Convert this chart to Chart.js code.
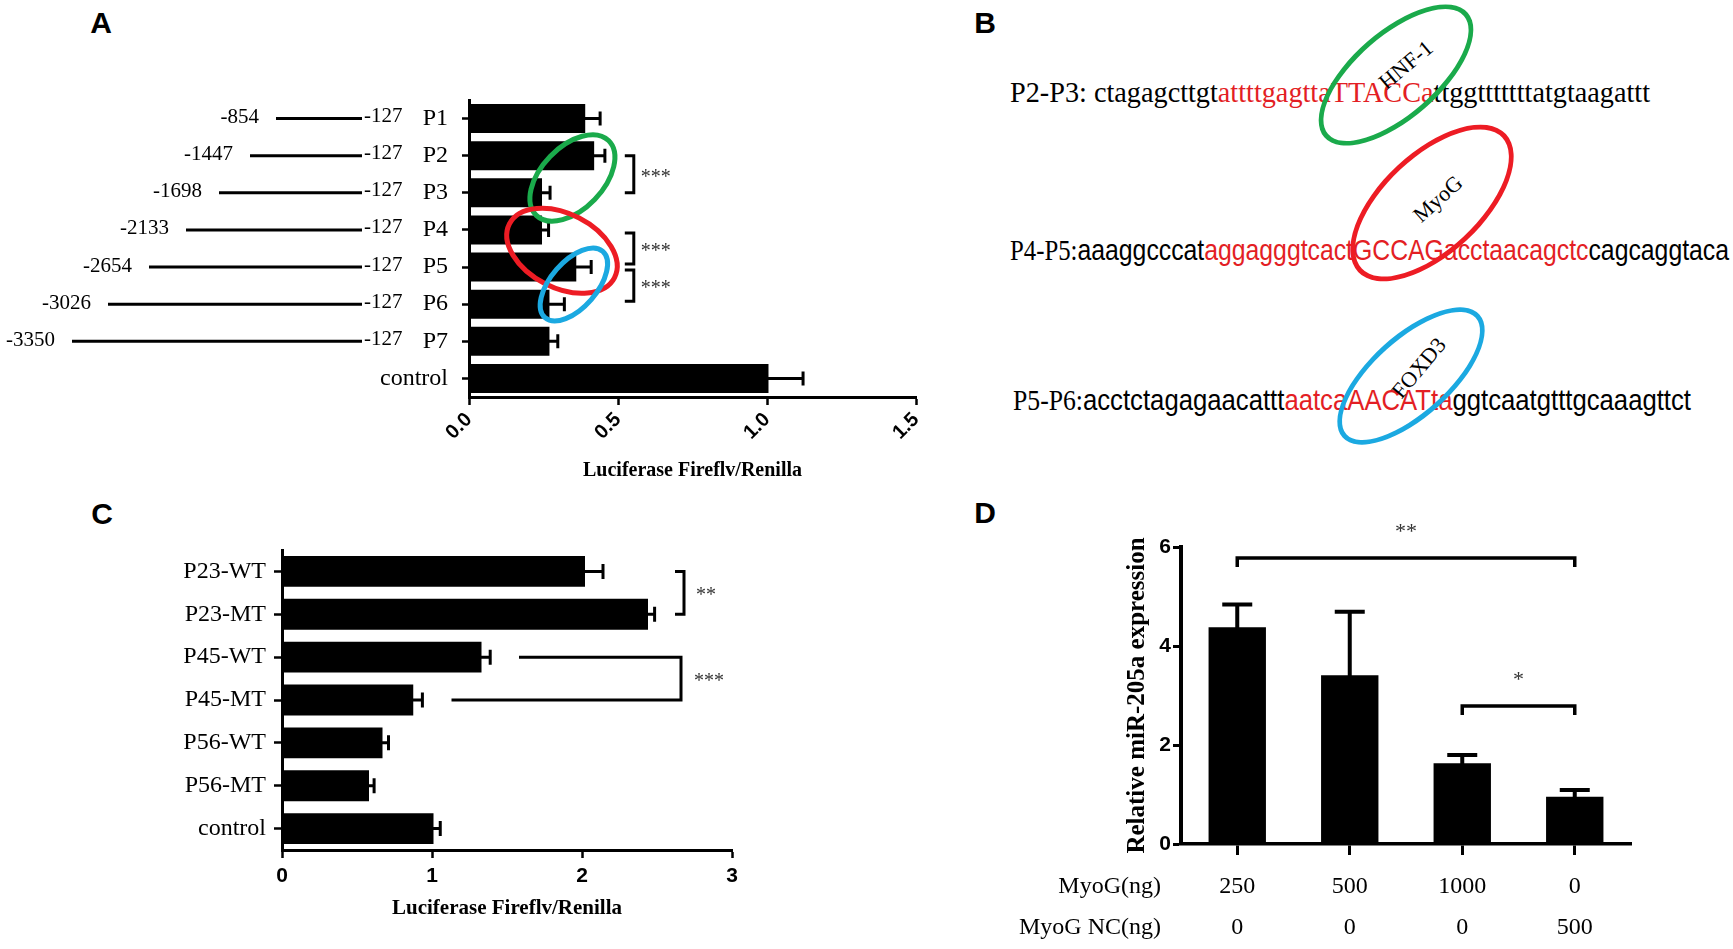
<!DOCTYPE html>
<html>
<head>
<meta charset="utf-8">
<title>MyoG / miR-205a promoter</title>
<script src="https://cdn.jsdelivr.net/npm/chart.js@4.4.0/dist/chart.umd.min.js"></script>
<style>
body { margin: 0; background: #fff; }
#page { position: relative; width: 1733px; height: 949px; overflow: hidden; font-family: 'Liberation Serif', 'Times New Roman', serif; color: #000; }
.letter { position: absolute; font: bold 30px 'Liberation Sans', Arial, sans-serif; line-height: 30px; transform: translate(-50%, -50%); }
.wrap { position: absolute; }
.seq { position: absolute; white-space: nowrap; font-size: 30px; line-height: 30px; display: inline-block; transform-origin: 0 50%; }
.sans { font-family: 'Liberation Sans', Arial, sans-serif; }
.red { color: #e31e24; }
.ring { position: absolute; border-radius: 50%; box-sizing: border-box; border-style: solid; border-width: 5px; }
.tf { position: absolute; font-size: 22px; line-height: 22px; white-space: nowrap; }
</style>
</head>
<body>
<div id="page">
  <div class="letter" style="left:101px;top:23px">A</div>
  <div class="letter" style="left:985px;top:23px">B</div>
  <div class="letter" style="left:102px;top:514px">C</div>
  <div class="letter" style="left:985px;top:513px">D</div>

  <div class="wrap" style="left:0;top:0;width:960px;height:490px"><canvas id="chartA" width="960" height="490"></canvas></div>
  <div class="wrap" style="left:0;top:480px;width:800px;height:469px"><canvas id="chartC" width="800" height="469"></canvas></div>
  <div class="wrap" style="left:1000px;top:480px;width:733px;height:469px"><canvas id="chartD" width="733" height="469"></canvas></div>

  <!-- panel B : sequences -->
  <div class="seq" id="seq1" data-w="640" style="left:1010px;top:77px">P2-P3: ctagagcttgt<span class="red">attttgagttaTTACCa</span>ttggtttttttatgtaagattt</div>
  <div class="seq" id="seq2" data-w="719" style="left:1010px;top:235px">P4-P5:<span class="sans">aaaggcccat<span class="red">aggagggtcactGCCAGacctaacagctc</span>cagcaggtaca</span></div>
  <div class="seq" id="seq3" data-w="678" style="left:1013px;top:385px">P5-P6:<span class="sans">acctctagagaacattt<span class="red">aatcaAACATta</span>ggtcaatgtttgcaaagttct</span></div>

  <div class="ring" style="border-color:#1aaa4b;left:1301px;top:31px;width:190px;height:88px;transform:rotate(-41deg)"></div>
  <div class="ring" style="border-color:#ed1c24;left:1331px;top:152px;width:202px;height:102px;transform:rotate(-43deg)"></div>
  <div class="ring" style="border-color:#1ba9e1;left:1319px;top:335px;width:184px;height:82px;transform:rotate(-42deg)"></div>

  <div class="tf" style="left:1406px;top:65px;transform:translate(-50%,-50%) rotate(-40deg)">HNF-1</div>
  <div class="tf" style="left:1438px;top:199px;transform:translate(-50%,-50%) rotate(-42deg)">MyoG</div>
  <div class="tf" style="left:1419px;top:368px;transform:translate(-50%,-50%) rotate(-50deg)">FOXD3</div>
</div>

<script>
// ---- data ----
const promoterLabels = ['P1', 'P2', 'P3', 'P4', 'P5', 'P6', 'P7', 'control'];
const promoterMean = [0.39, 0.42, 0.245, 0.245, 0.36, 0.27, 0.27, 1.005];
const promoterErr = [0.05, 0.036, 0.027, 0.022, 0.05, 0.05, 0.028, 0.116];
const promoterStart = ['-854', '-1447', '-1698', '-2133', '-2654', '-3026', '-3350'];
const promoterEnd = ['-127', '-127', '-127', '-127', '-127', '-127', '-127'];

const mutLabels = ['P23-WT', 'P23-MT', 'P45-WT', 'P45-MT', 'P56-WT', 'P56-MT', 'control'];
const mutMean = [2.02, 2.44, 1.33, 0.875, 0.67, 0.58, 1.01];
const mutErr = [0.12, 0.044, 0.058, 0.061, 0.04, 0.034, 0.045];

const myogDose = ['250', '500', '1000', '0'];
const myogNcDose = ['0', '0', '0', '500'];
const mirMean = [4.38, 3.41, 1.63, 0.955];
const mirErr = [0.46, 1.28, 0.168, 0.135];

Chart.defaults.font.family = "'Liberation Serif', 'Times New Roman', serif";
Chart.defaults.color = '#000';
Chart.defaults.animation = false;

const SERIF = "'Liberation Serif', 'Times New Roman', serif";
const SANS = "'Liberation Sans', Arial, sans-serif";

// one-sided error bars (GraphPad style)
const errorBars = {
    id: 'errorBars',
    afterDatasetsDraw(chart, args, opts) {
        const ctx = chart.ctx;
        const meta = chart.getDatasetMeta(0);
        const data = chart.data.datasets[0].data;
        const horiz = chart.options.indexAxis === 'y';
        const vScale = horiz ? chart.scales.x : chart.scales.y;
        ctx.save();
        ctx.strokeStyle = '#000';
        ctx.lineWidth = opts.width;
        meta.data.forEach((bar, i) => {
            const p = vScale.getPixelForValue(data[i] + opts.errors[i]);
            ctx.beginPath();
            if (horiz) {
                ctx.moveTo(bar.x - 2, bar.y); ctx.lineTo(p, bar.y);
                ctx.moveTo(p, bar.y - opts.cap); ctx.lineTo(p, bar.y + opts.cap);
            } else {
                ctx.moveTo(bar.x, bar.y + 2); ctx.lineTo(bar.x, p);
                ctx.moveTo(bar.x - opts.cap, p); ctx.lineTo(bar.x + opts.cap, p);
            }
            ctx.stroke();
        });
        ctx.restore();
    }
};

function vBracket(ctx, x, y1, y2, tick) {
    ctx.beginPath();
    ctx.moveTo(x - tick, y1); ctx.lineTo(x, y1); ctx.lineTo(x, y2); ctx.lineTo(x - tick, y2);
    ctx.stroke();
}

function ring(ctx, x, y, a, b, deg, color) {
    ctx.save();
    ctx.strokeStyle = color;
    ctx.lineWidth = 5;
    ctx.beginPath();
    ctx.ellipse(x, y, a, b, deg * Math.PI / 180, 0, Math.PI * 2);
    ctx.stroke();
    ctx.restore();
}

// ---- panel A ----
const annotA = {
    id: 'annotA',
    afterDraw(chart) {
        const ctx = chart.ctx, xs = chart.scales.x, ys = chart.scales.y;
        // construct schematic on the left
        const lineFrom = [276, 250, 219, 186, 149, 108, 72];
        ctx.save();
        ctx.strokeStyle = '#000';
        ctx.fillStyle = '#000';
        ctx.lineWidth = 3;
        ctx.font = '21px ' + SERIF;
        ctx.textBaseline = 'middle';
        promoterStart.forEach((s, i) => {
            const y = ys.getPixelForValue(i);
            ctx.beginPath(); ctx.moveTo(lineFrom[i], y); ctx.lineTo(362, y); ctx.stroke();
            ctx.textAlign = 'right'; ctx.fillText(s, lineFrom[i] - 17, y - 1);
            ctx.textAlign = 'left'; ctx.fillText(promoterEnd[i], 364, y - 2);
        });
        // significance brackets
        const bx = xs.getPixelForValue(0.553);
        ctx.lineWidth = 3;
        [[1, 2, 0], [3, 4, 3], [4, 5, 3]].forEach(([a, b, inset]) => {
            const y1 = ys.getPixelForValue(a) + inset, y2 = ys.getPixelForValue(b) - inset;
            vBracket(ctx, bx, y1, y2, 9);
            ctx.fillStyle = '#333';
            ctx.font = '20px ' + SERIF;
            ctx.textAlign = 'left';
            ctx.fillText('***', bx + 7, (y1 + y2) / 2 + 3);
        });
        ctx.restore();
        ring(ctx, xs.getPixelForValue(0.347), ys.getPixelForValue(1.60), 52, 31, -46, '#1aaa4b');
        ring(ctx, xs.getPixelForValue(0.312), ys.getPixelForValue(3.56), 59, 37, 27, '#ed1c24');
        ring(ctx, xs.getPixelForValue(0.352), ys.getPixelForValue(4.47), 44, 23, -49, '#1ba9e1');
    }
};

new Chart(document.getElementById('chartA'), {
    type: 'bar',
    data: {
        labels: promoterLabels,
        datasets: [{ data: promoterMean, backgroundColor: '#000', barPercentage: 0.78, categoryPercentage: 1 }]
    },
    options: {
        indexAxis: 'y',
        responsive: false,
        layout: { padding: { left: 0, right: 44, top: 100, bottom: 0 } },
        plugins: {
            legend: { display: false },
            tooltip: { enabled: false },
            errorBars: { errors: promoterErr, cap: 7, width: 3 }
        },
        scales: {
            x: {
                min: 0, max: 1.5,
                afterFit(s) { s.height = 93; },
                border: { display: true, color: '#000', width: 3 },
                grid: { drawOnChartArea: false, drawTicks: true, tickLength: 8, tickColor: '#000', tickWidth: 2.5 },
                ticks: {
                    stepSize: 0.5, minRotation: 45, maxRotation: 45, padding: 3,
                    font: { family: SANS, weight: 'bold', size: 20 },
                    callback: v => v.toFixed(1)
                },
                title: {
                    display: true, text: 'Luciferase Fireflv/Renilla',
                    font: { family: SERIF, weight: 'bold', size: 20 },
                    padding: { top: 0, bottom: 7 }
                }
            },
            y: {
                afterFit(s) { s.width = 469; },
                border: { display: true, color: '#000', width: 3 },
                grid: { offset: false, drawOnChartArea: false, drawTicks: true, tickLength: 7, tickColor: '#000', tickWidth: 2.5 },
                ticks: { padding: 14, font: { family: SERIF, size: 24 } }
            }
        }
    },
    plugins: [errorBars, annotA]
});

// ---- panel C ----
const annotC = {
    id: 'annotC',
    afterDraw(chart) {
        const ctx = chart.ctx, xs = chart.scales.x, ys = chart.scales.y;
        ctx.save();
        ctx.strokeStyle = '#000';
        ctx.lineWidth = 3;
        const bx = xs.getPixelForValue(2.68);
        const y0 = ys.getPixelForValue(0), y1 = ys.getPixelForValue(1);
        vBracket(ctx, bx, y0, y1, 9);
        const cx = xs.getPixelForValue(2.66);
        const y2 = ys.getPixelForValue(2), y3 = ys.getPixelForValue(3);
        ctx.beginPath();
        ctx.moveTo(xs.getPixelForValue(1.58), y2); ctx.lineTo(cx, y2); ctx.lineTo(cx, y3);
        ctx.lineTo(xs.getPixelForValue(1.13), y3);
        ctx.stroke();
        ctx.fillStyle = '#333';
        ctx.font = '20px ' + SERIF;
        ctx.textBaseline = 'middle';
        ctx.textAlign = 'left';
        ctx.fillText('**', bx + 12, (y0 + y1) / 2 + 3);
        ctx.fillText('***', cx + 13, (y2 + y3) / 2 + 3);
        ctx.restore();
    }
};

new Chart(document.getElementById('chartC'), {
    type: 'bar',
    data: {
        labels: mutLabels,
        datasets: [{ data: mutMean, backgroundColor: '#000', barPercentage: 0.72, categoryPercentage: 1 }]
    },
    options: {
        indexAxis: 'y',
        responsive: false,
        layout: { padding: { left: 0, right: 68, top: 70, bottom: 0 } },
        plugins: {
            legend: { display: false },
            tooltip: { enabled: false },
            errorBars: { errors: mutErr, cap: 7.5, width: 3 }
        },
        scales: {
            x: {
                min: 0, max: 3,
                afterFit(s) { s.height = 99; },
                border: { display: true, color: '#000', width: 3 },
                grid: { drawOnChartArea: false, drawTicks: true, tickLength: 8, tickColor: '#000', tickWidth: 2.5 },
                ticks: { stepSize: 1, maxRotation: 0, padding: 6, font: { family: SANS, weight: 'bold', size: 21 } },
                title: {
                    display: true, text: 'Luciferase Fireflv/Renilla',
                    font: { family: SERIF, weight: 'bold', size: 21 },
                    padding: { top: 0, bottom: 28 }
                }
            },
            y: {
                afterFit(s) { s.width = 282; },
                border: { display: true, color: '#000', width: 3 },
                grid: { offset: false, drawOnChartArea: false, drawTicks: true, tickLength: 8, tickColor: '#000', tickWidth: 2.5 },
                ticks: { padding: 8, font: { family: SERIF, size: 24 } }
            }
        }
    },
    plugins: [errorBars, annotC]
});

// ---- panel D ----
const annotD = {
    id: 'annotD',
    afterDraw(chart) {
        const ctx = chart.ctx, xs = chart.scales.x, ys = chart.scales.y;
        ctx.save();
        ctx.fillStyle = '#000';
        ctx.font = '24px ' + SERIF;
        ctx.textBaseline = 'middle';
        ctx.textAlign = 'right';
        ctx.fillText('MyoG(ng)', 161, 407);
        ctx.fillText('MyoG NC(ng)', 161, 448);
        ctx.textAlign = 'center';
        myogDose.forEach((d, i) => ctx.fillText(d, xs.getPixelForValue(i), 407));
        myogNcDose.forEach((d, i) => ctx.fillText(d, xs.getPixelForValue(i), 448));
        // brackets
        ctx.strokeStyle = '#000';
        ctx.lineWidth = 3.5;
        [[0, 3, 5.78, '**'], [2, 3, 2.79, '*']].forEach(([a, b, v, lab]) => {
            const y = ys.getPixelForValue(v), x1 = xs.getPixelForValue(a), x2 = xs.getPixelForValue(b);
            ctx.beginPath();
            ctx.moveTo(x1, y + 9); ctx.lineTo(x1, y); ctx.lineTo(x2, y); ctx.lineTo(x2, y + 9);
            ctx.stroke();
            ctx.fillStyle = '#333';
            ctx.font = '22px ' + SERIF;
            ctx.fillText(lab, (x1 + x2) / 2, y - 26);
        });
        ctx.restore();
    }
};

new Chart(document.getElementById('chartD'), {
    type: 'bar',
    data: {
        labels: myogDose,
        datasets: [{ data: mirMean, backgroundColor: '#000', barPercentage: 0.51, categoryPercentage: 1 }]
    },
    options: {
        responsive: false,
        layout: { padding: { left: 110, right: 102, top: 67, bottom: 0 } },
        plugins: {
            legend: { display: false },
            tooltip: { enabled: false },
            errorBars: { errors: mirErr, cap: 15, width: 4 }
        },
        scales: {
            x: {
                afterFit(s) { s.height = 105; },
                border: { display: true, color: '#000', width: 3.5 },
                grid: { offset: false, drawOnChartArea: false, drawTicks: true, tickLength: 11, tickColor: '#000', tickWidth: 3 },
                ticks: { display: false }
            },
            y: {
                min: 0, max: 6,
                afterFit(s) { s.width = 71; },
                border: { display: true, color: '#000', width: 4 },
                grid: { drawOnChartArea: false, drawTicks: true, tickLength: 8, tickColor: '#000', tickWidth: 3 },
                ticks: { stepSize: 2, padding: 2, font: { family: SANS, weight: 'bold', size: 21 } },
                title: {
                    display: true, text: 'Relative miR-205a expression',
                    font: { family: SERIF, weight: 'bold', size: 25 },
                    padding: { top: 13, bottom: 0 }
                }
            }
        }
    },
    plugins: [errorBars, annotD]
});

// squeeze the sequence lines of panel B to their measured widths
document.querySelectorAll('.seq').forEach(el => {
    const w = el.getBoundingClientRect().width;
    el.style.transform = 'scaleX(' + (parseFloat(el.dataset.w) / w) + ')';
});
</script>
</body>
</html>
